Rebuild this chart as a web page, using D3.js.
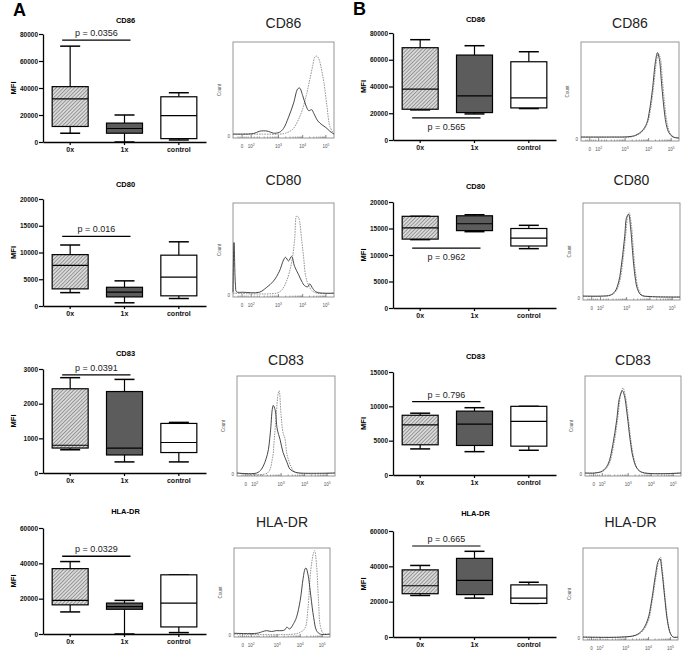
<!DOCTYPE html>
<html><head><meta charset="utf-8">
<script src="https://cdn.jsdelivr.net/npm/d3@7"></script>
<style>body{margin:0;background:#fff}svg{display:block}</style>
</head><body>
<svg id="c" width="686" height="655"></svg>
<script>
// ---------- DATA ----------
const markers = ["CD86", "CD80", "CD83", "HLA-DR"];
const groups = ["0x", "1x", "control"];
// box stats: [min, q1, median, q3, max] for 0x, 1x, control
const boxA_CD86 = [[6500, 11500, 32000, 41000, 71000], [0, 6500, 10000, 14000, 20000], [1500, 2500, 19500, 33500, 36500]];
const boxA_CD80 = [[2500, 3200, 7600, 9600, 11400], [600, 1700, 2600, 3500, 4700], [1400, 1900, 5400, 9500, 12000]];
const boxA_CD83 = [[670, 720, 800, 2430, 2750], [320, 520, 720, 2350, 2700], [320, 590, 880, 1430, 1460]];
const boxA_HLA = [[12500, 16500, 19000, 37000, 41000], [0, 14000, 15500, 17500, 19000], [800, 4000, 17500, 33500, 33500]];
const boxB_CD86 = [[22500, 23000, 38000, 69000, 75000], [19500, 20500, 33000, 63500, 70500], [23500, 24000, 31500, 58500, 66000]];
const boxB_CD80 = [[12900, 13000, 15100, 17300, 17300], [14400, 14600, 15900, 17400, 17600], [11200, 11700, 13200, 15000, 15600]];
const boxB_CD83 = [[3800, 4400, 7300, 8700, 9000], [3400, 4300, 7400, 9300, 9800], [3600, 4200, 7800, 10000, 10000]];
const boxB_HLA = [[23500, 24500, 29000, 38000, 40500], [22000, 24000, 32000, 44500, 48500], [19000, 19000, 22000, 29500, 31000]];
// y tick values
const ticksCD86 = [0, 20000, 40000, 60000, 80000];
const ticksCD80 = [0, 5000, 10000, 15000, 20000];
const ticksA_CD83 = [0, 1000, 2000, 3000];
const ticksB_CD83 = [0, 5000, 10000, 15000];
const ticksHLA = [0, 20000, 40000, 60000];
// p values and bar heights
const pLabelsA = ["p = 0.0356", "p = 0.016", "p = 0.0391", "p = 0.0329"];
const pHeightsA = [75500, 13000, 2830, 44000];
const pLabelsB = ["p = 0.565", "p = 0.962", "p = 0.796", "p = 0.665"];
const pHeightsB = [16500, 11300, 10700, 51500];
// histogram axis labels (logicle display), positions as fraction of frame width
const histTickLabels = ["0", "2", "3", "4", "5"];
const histTickPos = [0.09, 0.18, 0.45, 0.69, 0.92];
// histogram curves: [channel fraction, count fraction]
const histA_CD86_solid = [[0,0.02],[0.1,0.02],[0.2,0.025],[0.26,0.05],[0.3,0.055],[0.35,0.05],[0.4,0.03],[0.46,0.04],[0.5,0.08],[0.55,0.2],[0.6,0.35],[0.64,0.5],[0.66,0.51],[0.69,0.43],[0.72,0.33],[0.75,0.27],[0.78,0.28],[0.8,0.24],[0.84,0.16],[0.88,0.12],[0.92,0.09],[0.96,0.05],[1,0.02]];
const histA_CD86_dot = [[0,0.02],[0.3,0.02],[0.46,0.02],[0.52,0.03],[0.59,0.07],[0.65,0.18],[0.69,0.29],[0.73,0.45],[0.76,0.6],[0.79,0.75],[0.81,0.84],[0.83,0.85],[0.85,0.82],[0.87,0.74],[0.9,0.57],[0.93,0.32],[0.96,0.1],[1,0.02]];
const histA_CD80_solid = [[0,0.03],[0.01,0.57],[0.025,0.1],[0.035,0.035],[0.1,0.03],[0.26,0.03],[0.33,0.08],[0.4,0.15],[0.46,0.26],[0.5,0.38],[0.52,0.41],[0.55,0.37],[0.58,0.42],[0.61,0.31],[0.65,0.22],[0.68,0.15],[0.71,0.1],[0.74,0.09],[0.76,0.12],[0.79,0.07],[0.83,0.03],[1,0.02]];
const histA_CD80_dot = [[0,0.02],[0.43,0.02],[0.48,0.05],[0.53,0.15],[0.58,0.35],[0.61,0.6],[0.63,0.86],[0.65,0.84],[0.66,0.8],[0.68,0.6],[0.7,0.4],[0.72,0.2],[0.75,0.1],[0.78,0.05],[0.83,0.02],[1,0.02]];
const histA_CD83_solid = [[0,0.01],[0.2,0.01],[0.25,0.05],[0.31,0.2],[0.34,0.42],[0.36,0.66],[0.37,0.7],[0.39,0.65],[0.41,0.46],[0.44,0.35],[0.47,0.22],[0.51,0.12],[0.54,0.05],[0.59,0.02],[0.64,0.01],[1,0.01]];
const histA_CD83_dot = [[0,0.01],[0.31,0.01],[0.36,0.15],[0.38,0.35],[0.4,0.6],[0.42,0.82],[0.43,0.85],[0.45,0.6],[0.47,0.42],[0.49,0.36],[0.51,0.2],[0.55,0.08],[0.59,0.02],[1,0.01]];
const histA_HLA_solid = [[0,0.02],[0.24,0.02],[0.3,0.04],[0.34,0.05],[0.39,0.04],[0.44,0.05],[0.5,0.05],[0.53,0.06],[0.55,0.09],[0.58,0.07],[0.62,0.13],[0.65,0.2],[0.69,0.4],[0.72,0.65],[0.74,0.76],[0.75,0.77],[0.77,0.7],[0.8,0.45],[0.83,0.2],[0.86,0.05],[0.9,0.01],[1,0.01]];
const histA_HLA_dot = [[0,0.01],[0.62,0.01],[0.69,0.03],[0.74,0.08],[0.77,0.3],[0.8,0.75],[0.83,0.95],[0.84,0.97],[0.86,0.8],[0.88,0.4],[0.9,0.1],[0.93,0.02],[1,0.01]];
const histB_CD86_solid = [[0,0.02],[0.3,0.02],[0.5,0.025],[0.56,0.04],[0.62,0.08],[0.67,0.16],[0.7,0.3],[0.73,0.52],[0.76,0.8],[0.78,0.89],[0.8,0.82],[0.82,0.6],[0.84,0.38],[0.87,0.15],[0.9,0.06],[0.94,0.02],[1,0.01]];
const histB_CD86_dot = [[0,0.02],[0.3,0.02],[0.5,0.02],[0.57,0.04],[0.63,0.08],[0.68,0.17],[0.71,0.31],[0.74,0.53],[0.77,0.8],[0.79,0.88],[0.81,0.83],[0.83,0.62],[0.85,0.4],[0.88,0.16],[0.91,0.06],[0.95,0.02],[1,0.01]];
const histB_CD80_solid = [[0,0.02],[0.2,0.02],[0.28,0.03],[0.33,0.07],[0.37,0.18],[0.4,0.38],[0.43,0.65],[0.45,0.85],[0.47,0.88],[0.49,0.75],[0.51,0.5],[0.53,0.28],[0.56,0.1],[0.6,0.03],[0.7,0.015],[1,0.01]];
const histB_CD80_dot = [[0,0.02],[0.2,0.02],[0.29,0.03],[0.34,0.07],[0.38,0.18],[0.41,0.38],[0.44,0.66],[0.46,0.86],[0.475,0.9],[0.5,0.76],[0.52,0.5],[0.54,0.28],[0.57,0.1],[0.61,0.03],[0.7,0.015],[1,0.01]];
const histB_CD83_solid = [[0,0.01],[0.1,0.01],[0.18,0.03],[0.24,0.1],[0.29,0.3],[0.33,0.55],[0.36,0.78],[0.39,0.85],[0.41,0.8],[0.44,0.6],[0.47,0.35],[0.5,0.17],[0.54,0.06],[0.6,0.015],[1,0.01]];
const histB_CD83_dot = [[0,0.01],[0.1,0.01],[0.19,0.03],[0.25,0.1],[0.3,0.3],[0.34,0.56],[0.37,0.8],[0.395,0.88],[0.42,0.8],[0.45,0.58],[0.48,0.33],[0.51,0.16],[0.55,0.05],[0.6,0.015],[1,0.01]];
const histB_HLA_solid = [[0,0.01],[0.4,0.01],[0.55,0.03],[0.62,0.08],[0.68,0.2],[0.72,0.4],[0.76,0.68],[0.79,0.85],[0.81,0.88],[0.83,0.75],[0.86,0.45],[0.89,0.18],[0.92,0.05],[0.95,0.01],[1,0.01]];
const histB_HLA_dot = [[0,0.01],[0.4,0.01],[0.56,0.03],[0.63,0.08],[0.69,0.2],[0.73,0.42],[0.77,0.7],[0.8,0.87],[0.815,0.9],[0.835,0.76],[0.865,0.44],[0.895,0.17],[0.925,0.04],[0.95,0.01],[1,0.01]];

// ---------- LAYOUT ----------
const FONT = "Arial, 'Liberation Sans', sans-serif";
const svg = d3.select("#c");
const defs = svg.append("defs");
const pat = defs.append("pattern").attr("id", "hatch").attr("patternUnits", "userSpaceOnUse")
  .attr("width", 2.6).attr("height", 2.6).attr("patternTransform", "rotate(45)");
pat.append("rect").attr("width", 2.6).attr("height", 2.6).attr("fill", "#d9d9d9");
pat.append("line").attr("x1", 0).attr("y1", 0).attr("x2", 0).attr("y2", 2.6).attr("stroke", "#5a5a5a").attr("stroke-width", 1);
const fills = ["url(#hatch)", "#5c5c5c", "#ffffff"];

function drawBox(c) {
  const g = svg.append("g");
  const x = d3.scaleBand().domain(groups).range([c.left, c.right]);
  const y = d3.scaleLinear().domain([0, c.ticks[c.ticks.length - 1]]).range([c.y0, c.y1]);
  const bw = 36, cw = 20;
  // y axis
  const ya = g.append("g").attr("transform", `translate(${c.left},0)`)
    .call(d3.axisLeft(y).tickValues(c.ticks).tickSize(4).tickSizeOuter(0).tickFormat(d3.format("d")));
  ya.select(".domain").attr("stroke", "#000").attr("stroke-width", 1.3);
  ya.selectAll(".tick line").attr("stroke", "#000").attr("stroke-width", 1.2);
  ya.selectAll(".tick text").attr("font-family", FONT).attr("font-size", 6.5).attr("font-weight", "bold").attr("fill", "#111").attr("x", -5);
  // x axis
  const xa = g.append("g").attr("transform", `translate(0,${c.y0})`)
    .call(d3.axisBottom(x).tickSize(3).tickSizeOuter(0));
  xa.select(".domain").attr("stroke", "#000").attr("stroke-width", 1.3);
  xa.selectAll(".tick line").attr("stroke", "#000").attr("stroke-width", 1.2);
  xa.selectAll(".tick text").attr("font-family", FONT).attr("font-size", 7).attr("font-weight", "bold").attr("fill", "#111").attr("y", 5);
  // title & MFI
  g.append("text").attr("x", (c.left + c.right) / 2 + 1).attr("y", c.titleY).attr("text-anchor", "middle")
    .attr("font-family", FONT).attr("font-size", 7.5).attr("font-weight", "bold").text(c.title);
  g.append("text").attr("transform", `translate(${c.left - 27},${(c.y0 + c.y1) / 2}) rotate(-90)`).attr("text-anchor", "middle")
    .attr("font-family", FONT).attr("font-size", 7.5).attr("font-weight", "bold").text("MFI");
  // boxes
  c.data.forEach((d, i) => {
    const cx = x(groups[i]) + x.bandwidth() / 2;
    const [mn, q1, md, q3, mx] = d;
    const bg = g.append("g").attr("stroke", "#000").attr("stroke-width", 1.2);
    bg.append("line").attr("x1", cx).attr("x2", cx).attr("y1", y(q3)).attr("y2", y(mx));
    bg.append("line").attr("x1", cx).attr("x2", cx).attr("y1", y(q1)).attr("y2", y(mn));
    bg.append("line").attr("x1", cx - cw / 2).attr("x2", cx + cw / 2).attr("y1", y(mx)).attr("y2", y(mx)).attr("stroke-width", 1.5);
    bg.append("line").attr("x1", cx - cw / 2).attr("x2", cx + cw / 2).attr("y1", y(mn)).attr("y2", y(mn)).attr("stroke-width", 1.5);
    bg.append("rect").attr("x", cx - bw / 2).attr("width", bw).attr("y", y(q3)).attr("height", y(q1) - y(q3)).attr("fill", fills[i]);
    bg.append("line").attr("x1", cx - bw / 2).attr("x2", cx + bw / 2).attr("y1", y(md)).attr("y2", y(md));
  });
  // p value bar
  const px0 = x(groups[0]) + x.bandwidth() / 2 - 8, px1 = x(groups[1]) + x.bandwidth() / 2 + 6;
  const py = y(c.pY);
  g.append("line").attr("x1", px0).attr("x2", px1).attr("y1", py).attr("y2", py).attr("stroke", c.pColor || "#000").attr("stroke-width", 1.3);
  g.append("text").attr("x", (px0 + px1) / 2).attr("y", c.pBelow ? py + 12 : py - 4).attr("text-anchor", "middle")
    .attr("font-family", FONT).attr("font-size", 9).attr("fill", "#222").text(c.p);
}

function drawHist(c) {
  const g = svg.append("g");
  const x = d3.scaleLinear().domain([0, 1]).range([c.x0, c.x1]);
  const y = d3.scaleLinear().domain([0, 1]).range([c.yb - 2, c.yt]);
  g.append("rect").attr("x", c.x0).attr("y", c.yt).attr("width", c.x1 - c.x0).attr("height", c.yb - c.yt)
    .attr("fill", "none").attr("stroke", "#8a8a8a").attr("stroke-width", 0.9);
  g.append("text").attr("x", (c.x0 + c.x1) / 2).attr("y", c.titleY).attr("text-anchor", "middle")
    .attr("font-family", FONT).attr("font-size", 14).attr("fill", "#222").text(c.title);
  g.append("text").attr("transform", `translate(${c.x0 - 12},${(c.yt + c.yb) / 2}) rotate(-90)`).attr("text-anchor", "middle")
    .attr("font-family", FONT).attr("font-size", 4.5).attr("fill", "#555").text("Count");
  g.append("text").attr("x", c.x0 - 3).attr("y", c.yb).attr("text-anchor", "end")
    .attr("font-family", FONT).attr("font-size", 4.5).attr("fill", "#555").text("0");
  // minor ticks
  const minor = [];
  [-0.04, -0.02, 0.02, 0.04, 0.06, 0.12, 0.15].forEach(v => minor.push(histTickPos[0] + v));
  for (let dec = 1; dec < 4; dec++) {
    const a = histTickPos[dec], b = histTickPos[dec + 1];
    for (let k = 2; k < 10; k++) minor.push(a + (b - a) * Math.log10(k));
  }
  minor.forEach(v => g.append("line").attr("x1", x(v)).attr("x2", x(v)).attr("y1", c.yb).attr("y2", c.yb - 1.5).attr("stroke", "#666").attr("stroke-width", 0.6));
  histTickPos.forEach(v => g.append("line").attr("x1", x(v)).attr("x2", x(v)).attr("y1", c.yb).attr("y2", c.yb - 3).attr("stroke", "#555").attr("stroke-width", 0.7));
  histTickLabels.forEach((t, i) => {
    const tx = g.append("text").attr("x", x(histTickPos[i])).attr("y", c.yb + 10).attr("text-anchor", "middle")
      .attr("font-family", FONT).attr("font-size", 4.5).attr("fill", "#555");
    if (i === 0) tx.text("0");
    else { tx.append("tspan").text("10"); tx.append("tspan").attr("dy", -2.5).attr("font-size", 3.5).text(t); }
  });
  const line = d3.line().x(d => x(d[0])).y(d => y(d[1])).curve(d3.curveCatmullRom.alpha(0.5));
  g.append("path").attr("d", line(c.dot)).attr("fill", "none").attr("stroke", "#8a8a8a").attr("stroke-width", 0.9).attr("stroke-dasharray", "1.6,1");
  g.append("path").attr("d", line(c.solid)).attr("fill", "none").attr("stroke", "#333").attr("stroke-width", 0.9);
}

const boxA = [boxA_CD86, boxA_CD80, boxA_CD83, boxA_HLA];
const boxB = [boxB_CD86, boxB_CD80, boxB_CD83, boxB_HLA];
const ticksA = [ticksCD86, ticksCD80, ticksA_CD83, ticksHLA];
const ticksB = [ticksCD86, ticksCD80, ticksB_CD83, ticksHLA];
const yA = [[142, 34], [306, 199], [473, 369], [634, 528]];
const yB = [[140, 33], [308, 202], [475, 372], [637, 531]];
const titleYA = [23, 187, 356, 514];
const titleYB = [22, 189, 359, 516];
for (let r = 0; r < 4; r++) {
  drawBox({ left: 43, right: 206, y0: yA[r][0], y1: yA[r][1], data: boxA[r], ticks: ticksA[r], title: markers[r], titleY: titleYA[r], p: pLabelsA[r], pY: pHeightsA[r], pBelow: false });
  drawBox({ left: 393, right: 556, y0: yB[r][0], y1: yB[r][1], data: boxB[r], ticks: ticksB[r], title: markers[r], titleY: titleYB[r], p: pLabelsB[r], pY: pHeightsB[r], pBelow: r < 2, pColor: r === 3 ? "#555" : "#000" });
}
const histA = [[histA_CD86_solid, histA_CD86_dot], [histA_CD80_solid, histA_CD80_dot], [histA_CD83_solid, histA_CD83_dot], [histA_HLA_solid, histA_HLA_dot]];
const histB = [[histB_CD86_solid, histB_CD86_dot], [histB_CD80_solid, histB_CD80_dot], [histB_CD83_solid, histB_CD83_dot], [histB_HLA_solid, histB_HLA_dot]];
const frA = [[233, 334, 42, 138], [233, 334, 203, 297], [237, 335, 376, 476], [234, 330, 548, 637]];
const frB = [[581, 679, 42, 141], [583, 680, 203, 300], [585, 681, 376, 476], [583, 678, 548, 640]];
const hTitleY = [28, 185, 365, 527];
for (let r = 0; r < 4; r++) {
  drawHist({ x0: frA[r][0], x1: frA[r][1], yt: frA[r][2], yb: frA[r][3], solid: histA[r][0], dot: histA[r][1], title: markers[r], titleY: hTitleY[r] });
  drawHist({ x0: frB[r][0], x1: frB[r][1], yt: frB[r][2], yb: frB[r][3], solid: histB[r][0], dot: histB[r][1], title: markers[r], titleY: hTitleY[r] });
}
svg.append("text").attr("x", 13).attr("y", 16).attr("font-family", FONT).attr("font-size", 18).attr("font-weight", "bold").text("A");
svg.append("text").attr("x", 353).attr("y", 15).attr("font-family", FONT).attr("font-size", 18).attr("font-weight", "bold").text("B");
</script>
</body></html>
